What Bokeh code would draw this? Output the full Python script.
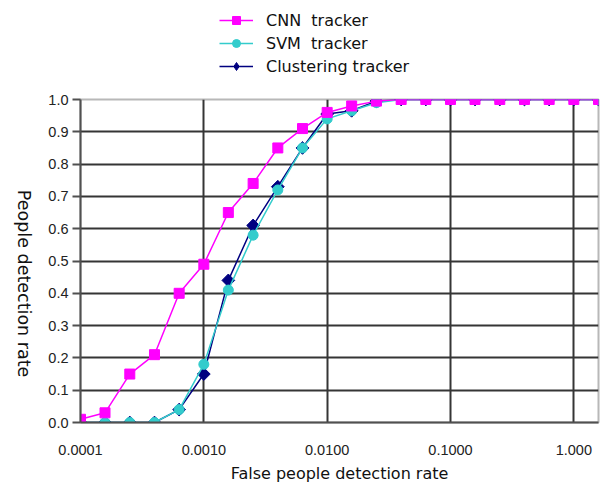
import math
from bokeh.plotting import figure
from bokeh.layouts import column
from bokeh.models import FixedTicker, Legend, LegendItem, LinearAxis
from bokeh.embed import file_html
from bokeh.resources import INLINE

# False people detection rate (x) — log spaced sample points
fpr = [0.0001, 0.000158, 0.000251, 0.000398, 0.000631,
       0.001, 0.00158, 0.00251, 0.00398, 0.00631,
       0.01, 0.0158, 0.0251, 0.0398, 0.0631,
       0.1, 0.158, 0.251, 0.398, 0.631,
       1.0, 1.585]

cnn = [0.01, 0.03, 0.15, 0.21, 0.40, 0.49, 0.65, 0.74, 0.85, 0.91,
       0.96, 0.98, 0.995, 1.0, 1.0, 1.0, 1.0, 1.0, 1.0, 1.0, 1.0, 1.0]
svm = [0.0, 0.0, 0.0, 0.0, 0.04, 0.18, 0.41, 0.58, 0.72, 0.85,
       0.94, 0.965, 0.99, 1.0, 1.0, 1.0, 1.0, 1.0, 1.0, 1.0, 1.0, 1.0]
clus = [0.0, 0.0, 0.0, 0.0, 0.04, 0.15, 0.44, 0.61, 0.73, 0.85,
        0.955, 0.965, 0.995, 1.0, 1.0, 1.0, 1.0, 1.0, 1.0, 1.0, 1.0, 1.0]

x_ticks = [0.0001, 0.001, 0.01, 0.1, 1.0]
x_tick_labels = ["0.0001", "0.0010", "0.0100", "0.1000", "1.000"]
y_ticks = [0.0, 0.1, 0.2, 0.3, 0.4, 0.5, 0.6, 0.7, 0.8, 0.9, 1.0]
x_title = "False people detection rate"
y_title = "People detection rate"
series_names = ["CNN  tracker", "SVM  tracker", "Clustering tracker"]
colors = ["#FF00FF", "#33CCCC", "#000080"]
markers = ["square", "circle", "square"]
marker_angles = [0.0, 0.0, math.pi / 4]
marker_sizes = [10, 10, 9]
legend_markers = ["square", "circle", "diamond"]
legend_sizes = [10, 10, 14]
series = [cnn, svm, clus]

TICK_FONT = "Liberation Sans"
TEXT_FONT = "DejaVu Sans"

# ---------------- main chart ----------------
p = figure(width=609, height=395, x_axis_type="log",
           x_range=(fpr[0], fpr[-1]), y_range=(0.0, 1.0),
           output_backend="svg", toolbar_location=None,
           min_border_left=79, min_border_right=11,
           min_border_top=9, min_border_bottom=63)

p.background_fill_color = "white"
p.border_fill_color = "white"
p.outline_line_color = "#b8b8b8"
p.outline_line_width = 2

p.xaxis.ticker = FixedTicker(ticks=x_ticks)
p.xaxis.major_label_overrides = {t: l for t, l in zip(x_ticks, x_tick_labels)}
p.xaxis.major_tick_line_color = None
p.xaxis.minor_tick_line_color = None
p.xaxis.axis_line_color = "#505050"
p.xaxis.axis_line_width = 2
p.xaxis.major_label_text_font = TICK_FONT
p.xaxis.major_label_text_font_size = "14.5px"
p.xaxis.major_label_text_color = "#222222"
p.xaxis.major_label_standoff = 16
p.xaxis.axis_label = x_title
p.xaxis.axis_label_text_font = TEXT_FONT
p.xaxis.axis_label_text_font_size = "16px"
p.xaxis.axis_label_text_font_style = "normal"
p.xaxis.axis_label_text_color = "#111111"
p.xaxis.axis_label_standoff = 6

p.yaxis.ticker = FixedTicker(ticks=y_ticks)
p.yaxis.major_label_overrides = {t: f"{t:.1f}" for t in y_ticks}
p.yaxis.major_tick_line_color = "#505050"
p.yaxis.major_tick_line_width = 2
p.yaxis.major_tick_out = 8
p.yaxis.major_tick_in = 0
p.yaxis.minor_tick_line_color = None
p.yaxis.axis_line_color = "#505050"
p.yaxis.axis_line_width = 2
p.yaxis.major_label_text_font = TICK_FONT
p.yaxis.major_label_text_font_size = "14.5px"
p.yaxis.major_label_text_color = "#222222"
p.yaxis.major_label_standoff = 4

# y title: reads top-to-bottom, carried by an extra left axis
title_axis = LinearAxis(ticker=FixedTicker(ticks=[0.14]),
                        major_label_overrides={0.14: y_title},
                        major_label_orientation=-math.pi / 2,
                        major_label_text_font=TEXT_FONT,
                        major_label_text_font_size="17.5px",
                        major_label_text_color="#111111",
                        major_label_standoff=16,
                        axis_line_color=None, major_tick_line_color=None,
                        minor_tick_line_color=None)
p.add_layout(title_axis, "left")

p.xgrid.ticker = FixedTicker(ticks=x_ticks[1:])
p.xgrid.grid_line_color = "#353535"
p.xgrid.grid_line_width = 2
p.xgrid.minor_grid_line_color = None
p.ygrid.ticker = FixedTicker(ticks=y_ticks[1:-1])
p.ygrid.grid_line_color = "#353535"
p.ygrid.grid_line_width = 2

# draw clustering first, CNN last (on top)
for ys, c, m, a, s in list(zip(series, colors, markers, marker_angles, marker_sizes))[::-1]:
    p.line(fpr, ys, line_color=c, line_width=1.5)
    p.scatter(fpr, ys, marker=m, angle=a, size=s, fill_color=c, line_color=c)

# ---------------- legend strip ----------------
lg = figure(width=609, height=90, x_range=(100, 200), y_range=(100, 200),
            output_backend="svg", toolbar_location=None,
            min_border=0, x_axis_location=None, y_axis_location=None)
lg.outline_line_color = None
lg.grid.visible = False
items = []
for name, ys, c, m, s in zip(series_names, series, colors, legend_markers, legend_sizes):
    r1 = lg.line(fpr, ys, line_color=c, line_width=1.5)
    r2 = lg.scatter(fpr, ys, marker=m, size=s, fill_color=c, line_color=c)
    items.append(LegendItem(label=name, renderers=[r1, r2]))
legend = Legend(items=items, location=(139, 14))
legend.label_text_font = TEXT_FONT
legend.label_text_font_size = "16px"
legend.label_text_color = "#111111"
legend.border_line_color = None
legend.background_fill_alpha = 0
legend.glyph_width = 34
legend.glyph_height = 20
legend.label_height = 20
legend.spacing = 3
legend.padding = 0
legend.margin = 0
legend.label_standoff = 13
lg.add_layout(legend, "center")

layout = column(lg, p, spacing=0)
open("out.html", "w").write(file_html(layout, INLINE))
